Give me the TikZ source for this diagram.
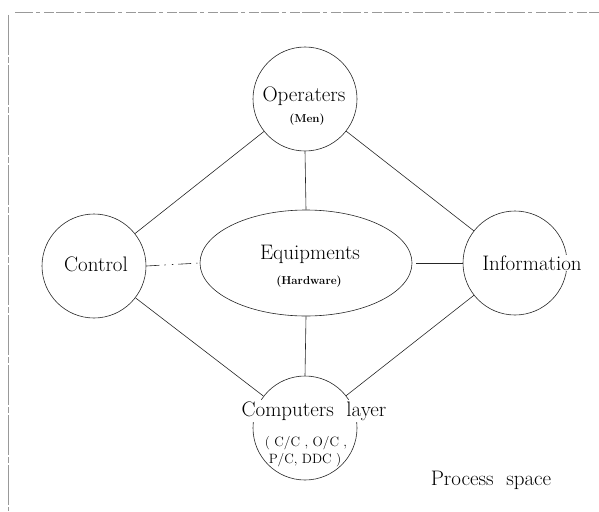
\documentclass[tikz,border=0pt]{standalone}
\usetikzlibrary{shapes.geometric}
\begin{document}
\begin{tikzpicture}[x=1pt,y=-1pt,
  ring/.style={draw=black!85, line width=0.6pt, circle, minimum size=104pt, inner sep=0pt},
  oval/.style={draw=black!85, line width=0.6pt, ellipse, minimum width=212pt, minimum height=106pt, inner sep=0pt},
  link/.style={draw=black!85, line width=0.6pt},
  big/.style={font=\fontsize{21}{24}\selectfont, inner sep=0pt},
  small/.style={font=\fontsize{11.5}{13}\selectfont\bfseries, inner sep=0pt},
  sub/.style={font=\fontsize{13.5}{15}\selectfont, inner sep=0pt},
  frameline/.style={draw=black!40, line width=0.6pt}]
\useasboundingbox (0,0) rectangle (599,511);

% page frame remnants
\coordinate (ftl) at (15,12);
\coordinate (ftr) at (599,12);
\coordinate (flt) at (8,15);
\coordinate (flb) at (8,511);
\draw[frameline, dash pattern=on 18pt off 3pt on 4pt off 4pt on 10pt off 2pt] (ftl) -- (ftr);
\draw[frameline, dash pattern=on 40pt off 2pt on 6pt off 2pt] (flt) -- (flb);

% shapes
\node[ring] (op) at (305,99) {};
\node[ring] (ctl) at (94,266) {};
\node[ring] (inf) at (515,263) {};
\node[ring] (comp) at (305,428) {};
\node[oval] (eq) at (306,263) {};

% connectors
\draw[link] (op) -- (ctl);
\draw[link] (op) -- (inf);
\draw[link] (ctl) -- (comp);
\draw[link] (inf) -- (comp);
\draw[link] (op.south) -- (eq.north);
\draw[link] (eq.south) -- (comp.north);
\draw[link, dash pattern=on 13pt off 5pt on 1.5pt off 6pt on 1.5pt off 5pt] (ctl.east) -- (eq.west);
\draw[link, shorten <=4pt] (eq.east) -- (inf.west);

% labels
\node[big] (opt) at (304,96) {Operaters};
\node[small] (opm) at (307,120) {(Men)};
\node[big] (ctlt) at (96,264) {Control};
\node[big, fill=white, inner sep=1pt] (inft) at (532,263) {Information};
\node[big] (eqt) at (310,254) {Equipments};
\node[small] (eqh) at (309,282) {(Hardware)};
\node[big, fill=white, inner sep=2pt] (compt) at (314,411) {Computers\hspace{0.6em}layer};
\node[sub] (comp1) at (306,443) {( C/C , O/C ,};
\node[sub] (comp2) at (305,460) {P/C, DDC )};
\node[big] (ps) at (491,480) {Process\hspace{0.6em}space};
\end{tikzpicture}
\end{document}
